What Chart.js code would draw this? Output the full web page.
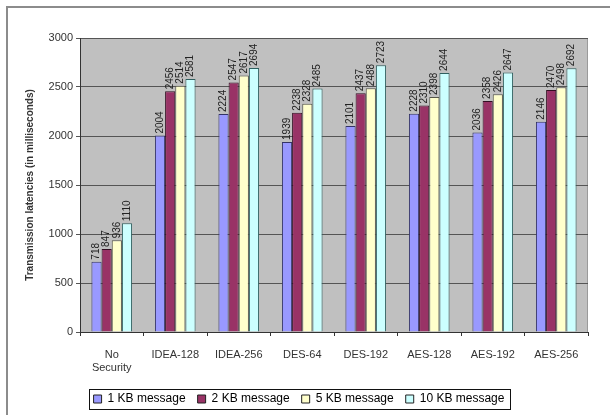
<!DOCTYPE html>
<html>
<head>
<meta charset="utf-8">
<script src="https://cdn.jsdelivr.net/npm/chart.js@4.4.1/dist/chart.umd.min.js"></script>
<style>
  html, body { margin: 0; padding: 0; background: #fff; }
  #wrap { width: 610px; height: 415px; }
</style>
</head>
<body>
<div id="wrap"><canvas id="c" width="610" height="415"></canvas></div>
<script>
// Cipher configurations compared
const categories = [['No', 'Security'], 'IDEA-128', 'IDEA-256', 'DES-64', 'DES-192', 'AES-128', 'AES-192', 'AES-256'];

// Transmission latency (ms) per message size
const kb1  = [718, 2004, 2224, 1939, 2101, 2228, 2036, 2146];
const kb2  = [847, 2456, 2547, 2238, 2437, 2310, 2358, 2470];
const kb5  = [936, 2514, 2617, 2328, 2488, 2398, 2426, 2498];
const kb10 = [1110, 2581, 2694, 2485, 2723, 2644, 2647, 2692];

const seriesNames = ['1 KB message', '2 KB message', '5 KB message', '10 KB message'];
const yTicks = [0, 500, 1000, 1500, 2000, 2500, 3000];

const FONT = 'Liberation Sans, Arial, sans-serif';

// Grey plot background and the outer frame
const framePlugin = {
  id: 'frame',
  beforeDraw(chart) {
    const { ctx, chartArea: a } = chart;
    ctx.save();
    ctx.fillStyle = '#fff';
    ctx.fillRect(0, 0, chart.width, chart.height);
    ctx.fillStyle = '#c0c0c0';
    ctx.fillRect(a.left, a.top, a.right - a.left, a.bottom - a.top);
    ctx.strokeStyle = '#9a9a9a';
    ctx.lineWidth = 1;
    ctx.strokeRect(a.left + 0.5, a.top + 0.5, a.right - a.left - 1, a.bottom - a.top);
    ctx.restore();
  },
  afterDraw(chart) {
    const { ctx } = chart;
    ctx.save();
    ctx.strokeStyle = '#8c8c8c';
    ctx.lineWidth = 2;
    ctx.strokeRect(7, 7, chart.width - 4, chart.height + 10);
    // box around the legend
    const lg = chart.legend;
    if (lg && lg.legendHitBoxes && lg.legendHitBoxes.length) {
      const hb = lg.legendHitBoxes;
      const x0 = Math.min(...hb.map(b => b.left)) - 5;
      const x1 = Math.max(...hb.map(b => b.left + b.width)) + 5;
      const y0 = Math.min(...hb.map(b => b.top)) - 4;
      const y1 = Math.max(...hb.map(b => b.top + b.height)) + 4;
      ctx.strokeStyle = '#111';
      ctx.lineWidth = 1;
      ctx.strokeRect(Math.round(x0) + 0.5, Math.round(y0) + 0.5, Math.round(x1 - x0), Math.round(y1 - y0));
    }
    ctx.restore();
  }
};

// Vertical value labels above each bar
const valueLabels = {
  id: 'valueLabels',
  afterDatasetsDraw(chart) {
    const { ctx } = chart;
    ctx.save();
    ctx.font = '10px ' + FONT;
    ctx.fillStyle = '#222';
    ctx.textAlign = 'left';
    ctx.textBaseline = 'middle';
    chart.data.datasets.forEach((ds, i) => {
      chart.getDatasetMeta(i).data.forEach((bar, j) => {
        ctx.save();
        ctx.translate(bar.x, bar.y - 2);
        ctx.rotate(-Math.PI / 2);
        ctx.fillText(String(ds.data[j]), 0, 0);
        ctx.restore();
      });
    });
    ctx.restore();
  }
};

const colors = ['#9999ff', '#993366', '#ffffcc', '#ccffff'];
const borders = ['#333366', '#330f22', '#55554a', '#2f5f5f'];
const values = [kb1, kb2, kb5, kb10];

new Chart(document.getElementById('c'), {
  type: 'bar',
  data: {
    labels: categories,
    datasets: values.map((v, i) => ({
      label: seriesNames[i],
      data: v,
      backgroundColor: colors[i],
      borderColor: borders[i],
      borderWidth: 1,
      borderSkipped: 'bottom',
      categoryPercentage: 0.64,
      barPercentage: 1.0
    }))
  },
  options: {
    responsive: false,
    animation: false,
    devicePixelRatio: 1,
    layout: { padding: { left: 10, top: 38, right: 22, bottom: 0 } },
    plugins: {
      legend: {
        position: 'bottom',
        labels: {
          font: { family: FONT, size: 12 },
          color: '#222',
          boxWidth: 8,
          boxHeight: 8,
          padding: 12,
          generateLabels(chart) {
            return chart.data.datasets.map((ds, i) => ({
              text: ds.label,
              fillStyle: ds.backgroundColor,
              strokeStyle: '#222',
              lineWidth: 1,
              datasetIndex: i,
              hidden: false
            }));
          }
        }
      },
      tooltip: { enabled: false }
    },
    scales: {
      x: {
        grid: { drawOnChartArea: false, drawTicks: true, tickLength: 4, color: '#333', offset: true },
        border: { color: '#333', width: 1 },
        ticks: { font: { family: FONT, size: 11 }, color: '#333', maxRotation: 0, autoSkip: false, padding: 12 },
        afterFit(scale) { scale.height = 49; }
      },
      y: {
        min: 0,
        max: 3000,
        afterBuildTicks(scale) { scale.ticks = yTicks.map(v => ({ value: v })); },
        grid: { color: '#555', tickLength: 4, drawTicks: true },
        border: { color: '#333', width: 1 },
        ticks: {
          font: { family: FONT, size: 11 },
          color: '#333',
          padding: 3,
          callback: v => String(v)
        },
        title: {
          display: true,
          text: 'Transmission latencies (in milliseconds)',
          font: { family: FONT, size: 10, weight: 'bold' },
          color: '#333',
          padding: { top: 14, bottom: 0 }
        },
        afterFit(scale) { scale.width = 70; }
      }
    }
  },
  plugins: [framePlugin, valueLabels]
});
</script>
</body>
</html>
